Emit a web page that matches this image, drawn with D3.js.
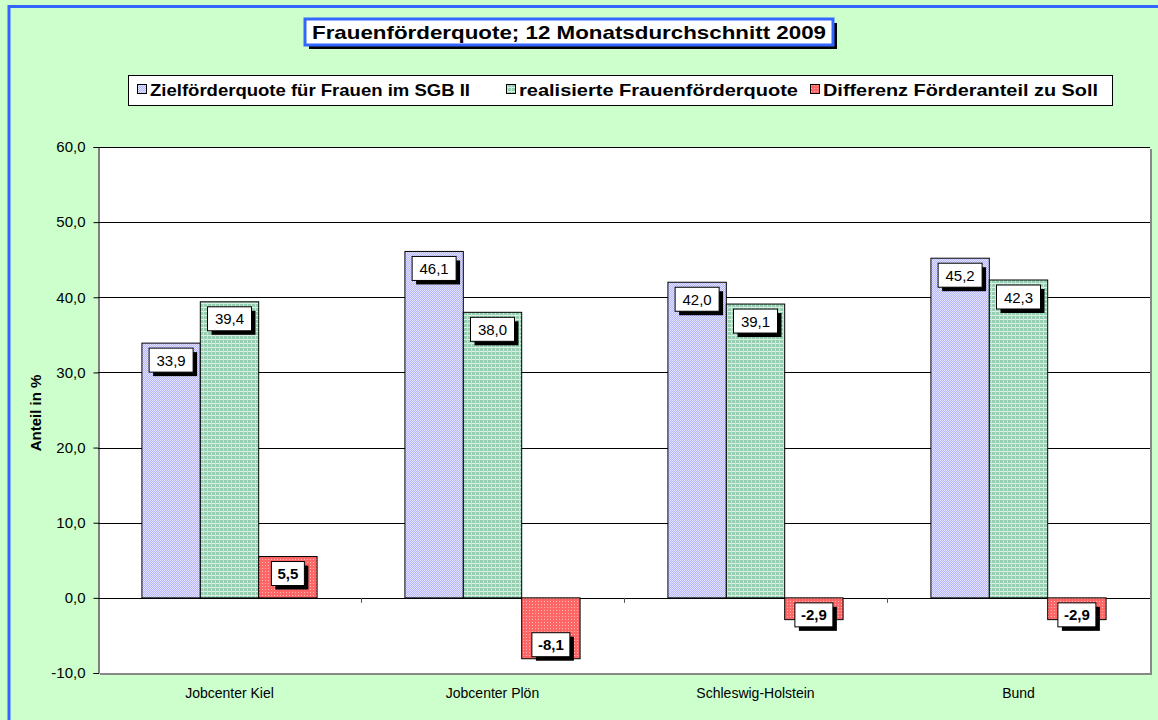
<!doctype html>
<html>
<head>
<meta charset="utf-8">
<script src="https://cdnjs.cloudflare.com/ajax/libs/d3/7.8.5/d3.min.js"></script>
<style>
  body { margin: 0; background: #fff; }
  svg { display: block; font-family: "Liberation Sans", Arial, sans-serif; }
</style>
</head>
<body>
<svg id="chart" width="1158" height="720"></svg>
<script>
var categories = ["Jobcenter Kiel", "Jobcenter Plön", "Schleswig-Holstein", "Bund"];
var seriesNames = ["Zielförderquote für Frauen im SGB II", "realisierte Frauenförderquote", "Differenz Förderanteil zu Soll"];
var zielQuote = [33.9, 46.1, 42.0, 45.2];
var realQuote = [39.4, 38.0, 39.1, 42.3];
var differenz = [5.5, -8.1, -2.9, -2.9];
var yTicks = [-10, 0, 10, 20, 30, 40, 50, 60];
var chartTitle = "Frauenförderquote; 12 Monatsdurchschnitt 2009";
var yTitle = "Anteil in %";

var series = [zielQuote, realQuote, differenz];
var fills = ["url(#patBlue)", "url(#patGreen)", "url(#patRed)"];
var fmt = function(v) { return v.toFixed(1).replace(".", ","); };

var svg = d3.select("#chart");

// patterns
var defs = svg.append("defs");
var pb = defs.append("pattern").attr("id", "patBlue").attr("width", 2).attr("height", 2).attr("patternUnits", "userSpaceOnUse");
pb.append("rect").attr("width", 2).attr("height", 2).attr("fill", "#b4b4ff");
pb.append("rect").attr("width", 1).attr("height", 1).attr("fill", "#e4e4ff");
pb.append("rect").attr("x", 1).attr("y", 1).attr("width", 1).attr("height", 1).attr("fill", "#e4e4ff");

var pg = defs.append("pattern").attr("id", "patGreen").attr("width", 4).attr("height", 4).attr("patternUnits", "userSpaceOnUse");
pg.append("rect").attr("width", 4).attr("height", 4).attr("fill", "#96ceb2");
pg.append("rect").attr("y", 3).attr("width", 4).attr("height", 1).attr("fill", "#dff2e8");
pg.append("rect").attr("x", 3).attr("width", 1).attr("height", 4).attr("fill", "#c8e6d6");

var pr = defs.append("pattern").attr("id", "patRed").attr("width", 3).attr("height", 3).attr("patternUnits", "userSpaceOnUse");
pr.append("rect").attr("width", 3).attr("height", 3).attr("fill", "#ff6666");
pr.append("rect").attr("x", 1).attr("y", 1).attr("width", 1).attr("height", 1).attr("fill", "#ffb8b8");

// background + outer frame
svg.append("rect").attr("x", 0).attr("y", 0).attr("width", 1158).attr("height", 720).attr("fill", "#ccffcc");
svg.append("rect").attr("x", 9).attr("y", 6.5).attr("width", 1160).attr("height", 730)
  .attr("fill", "none").attr("stroke", "#3366ff").attr("stroke-width", 3);

var mLeft = 98, mRight = 1150, mTop = 147, mBottom = 673;

var x0 = d3.scaleBand().domain(categories).range([mLeft, mRight]).paddingInner(0.334).paddingOuter(0.167);
var x1 = d3.scaleBand().domain(d3.range(series.length)).range([0, x0.bandwidth()]);
var y = d3.scaleLinear().domain([-10, 60]).range([mBottom, mTop]);

// plot area
svg.append("rect").attr("x", mLeft + 2).attr("y", mTop + 2).attr("width", mRight - mLeft).attr("height", mBottom - mTop).attr("fill", "#888");
svg.append("rect").attr("x", mLeft).attr("y", mTop).attr("width", mRight - mLeft).attr("height", mBottom - mTop).attr("fill", "#fff");

// gridlines
svg.append("g").selectAll("line").data(yTicks.filter(function(t) { return t > -10; })).join("line")
  .attr("x1", mLeft).attr("x2", mRight)
  .attr("y1", function(d) { return Math.round(y(d)) + 0.5; })
  .attr("y2", function(d) { return Math.round(y(d)) + 0.5; })
  .attr("stroke", "#000").attr("stroke-width", 1);

// y axis
var yAxis = svg.append("g").attr("transform", "translate(" + (mLeft + 0.5) + ",0)")
  .call(d3.axisLeft(y).tickValues(yTicks).tickSize(5).tickPadding(8).tickFormat(fmt));
yAxis.select(".domain").attr("stroke", "#000");
yAxis.selectAll(".tick line").attr("stroke", "#000");
yAxis.selectAll(".tick text").attr("font-size", 15).attr("fill", "#000").attr("font-family", "Liberation Sans, Arial, sans-serif");

// category labels
var xAxis = svg.append("g").attr("transform", "translate(0," + mBottom + ")")
  .call(d3.axisBottom(x0).tickSize(0).tickPadding(15));
xAxis.select(".domain").remove();
xAxis.selectAll(".tick text").attr("font-size", 14).attr("fill", "#000").attr("font-family", "Liberation Sans, Arial, sans-serif");

// small category separators on the zero line
svg.append("g").selectAll("line").data(categories.slice(1)).join("line")
  .attr("x1", function(d) { return Math.round(x0(d) - x0.step() * 0.167) + 0.5; })
  .attr("x2", function(d) { return Math.round(x0(d) - x0.step() * 0.167) + 0.5; })
  .attr("y1", y(0)).attr("y2", y(0) + 5).attr("stroke", "#555");

// bars
var bars = [];
series.forEach(function(s, si) {
  s.forEach(function(v, ci) {
    bars.push({ si: si, ci: ci, v: v });
  });
});

svg.append("g").selectAll("rect").data(bars).join("rect")
  .attr("x", function(d) { return x0(categories[d.ci]) + x1(d.si); })
  .attr("y", function(d) { return y(Math.max(0, d.v)); })
  .attr("width", x1.bandwidth())
  .attr("height", function(d) { return Math.abs(y(d.v) - y(0)); })
  .attr("fill", function(d) { return fills[d.si]; })
  .attr("stroke", "#000").attr("stroke-width", 1);

// data labels
var labG = svg.append("g");
bars.forEach(function(d) {
  var cx = x0(categories[d.ci]) + x1(d.si) + x1.bandwidth() / 2;
  var bold = d.si === 2;
  var txt = fmt(d.v);
  var w = bold ? (txt.length > 3 ? 38 : 33) : 44, h = 24;
  var yTop;
  if (d.v >= 0) yTop = y(d.v) + 5;
  else yTop = Math.max(y(d.v) - 2 - h, y(0) + 5);
  var g = labG.append("g");
  g.append("rect").attr("x", cx - w / 2 + 4).attr("y", yTop + 4).attr("width", w).attr("height", h).attr("fill", "#000");
  g.append("rect").attr("x", cx - w / 2).attr("y", yTop).attr("width", w).attr("height", h)
    .attr("fill", "#fff").attr("stroke", "#000").attr("stroke-width", 1);
  g.append("text").attr("x", cx).attr("y", yTop + h / 2 + 5.5).attr("text-anchor", "middle")
    .attr("font-size", 15).attr("font-weight", bold ? "bold" : "normal").text(txt);
});

// y title
svg.append("text").attr("transform", "translate(41,413) rotate(-90)").attr("text-anchor", "middle")
  .attr("font-size", 15).attr("font-weight", "bold").text(yTitle);

// title box
var tg = svg.append("g");
tg.append("rect").attr("x", 309).attr("y", 23).attr("width", 528).attr("height", 26).attr("fill", "#000");
tg.append("rect").attr("x", 305).attr("y", 19).attr("width", 528).attr("height", 26)
  .attr("fill", "#fff").attr("stroke", "#3366ff").attr("stroke-width", 3);
tg.append("text").attr("x", 569).attr("y", 38.5).attr("text-anchor", "middle")
  .attr("font-size", 19).attr("font-weight", "bold").attr("textLength", 514).attr("lengthAdjust", "spacingAndGlyphs")
  .text(chartTitle);

// legend
var lg = svg.append("g");
lg.append("rect").attr("x", 128.5).attr("y", 75.5).attr("width", 984).attr("height", 30)
  .attr("fill", "#fff").attr("stroke", "#000").attr("stroke-width", 1);
var legX = [137, 506, 810];
var legW = [320, 279, 275];
seriesNames.forEach(function(n, i) {
  lg.append("rect").attr("x", legX[i] + 0.5).attr("y", 84.5).attr("width", 9).attr("height", 9)
    .attr("fill", fills[i]).attr("stroke", "#000").attr("stroke-width", 1);
  lg.append("text").attr("x", legX[i] + 13).attr("y", 95.5).attr("font-size", 17).attr("font-weight", "bold")
    .attr("textLength", legW[i]).attr("lengthAdjust", "spacingAndGlyphs").text(n);
});
</script>
</body>
</html>
